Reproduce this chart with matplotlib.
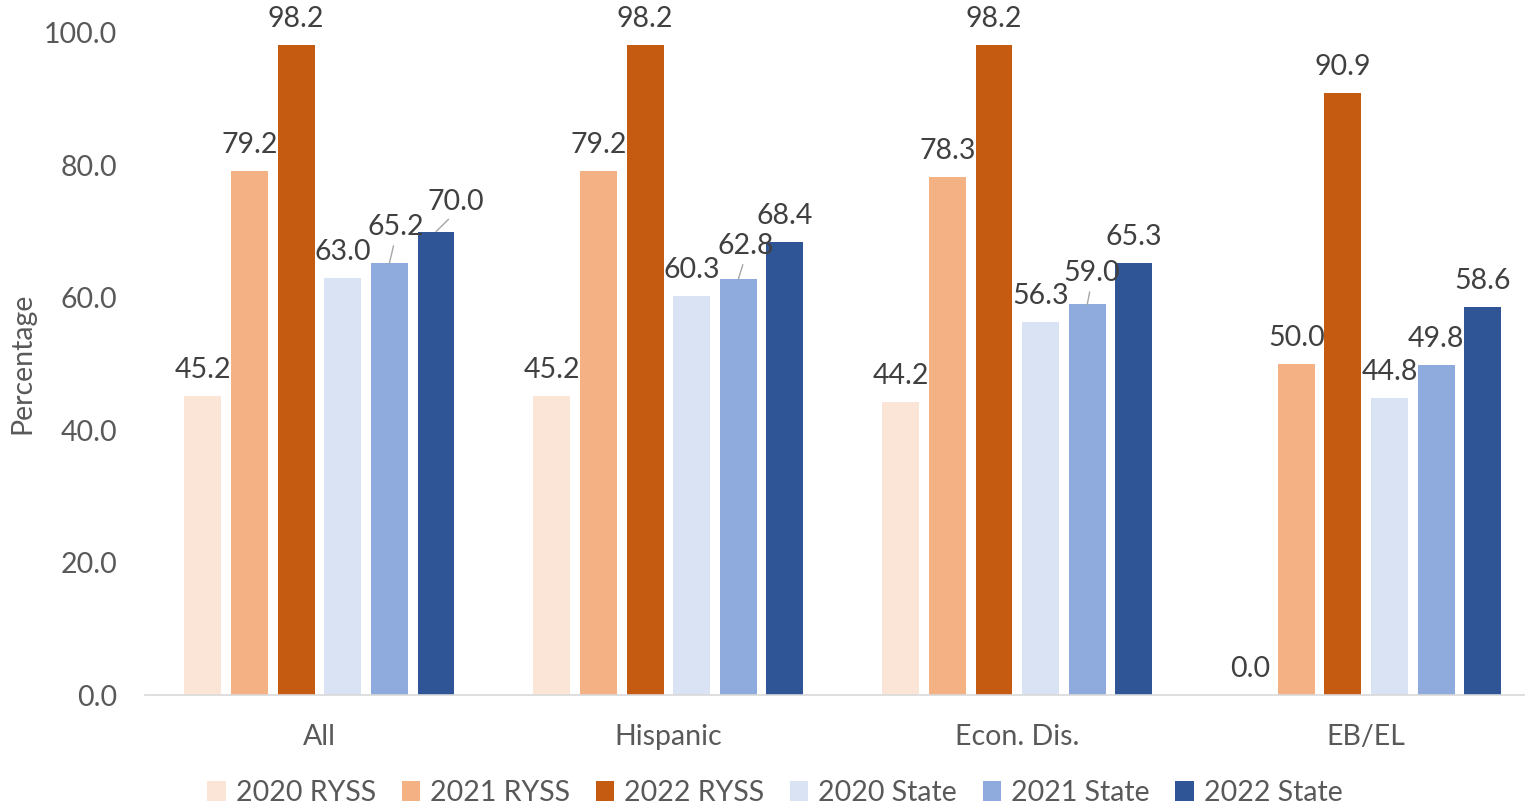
import numpy as np
import matplotlib
matplotlib.use('Agg')
import matplotlib.pyplot as plt

plt.rcParams['font.family'] = ['Lato', 'DejaVu Sans']

categories = ['All', 'Hispanic', 'Econ. Dis.', 'EB/EL']
series_names = ['2020 RYSS', '2021 RYSS', '2022 RYSS', '2020 State', '2021 State', '2022 State']
ryss_2020 = [45.2, 45.2, 44.2, 0.0]
ryss_2021 = [79.2, 79.2, 78.3, 50.0]
ryss_2022 = [98.2, 98.2, 98.2, 90.9]
state_2020 = [63.0, 60.3, 56.3, 44.8]
state_2021 = [65.2, 62.8, 59.0, 49.8]
state_2022 = [70.0, 68.4, 65.3, 58.6]
series_values = [ryss_2020, ryss_2021, ryss_2022, state_2020, state_2021, state_2022]
yticks = [0, 20, 40, 60, 80, 100]

colors = ['#FBE5D6', '#F4B183', '#C55A11', '#DAE3F3', '#8FAADC', '#2F5597']

# labels Excel pushed aside (series index, category index) -> offset in px
moved = {(4, 0): (6, 36), (5, 0): (20, 30), (4, 1): (7, 33), (4, 2): (4, 31)}

fig = plt.figure(figsize=(15.25, 8.07), dpi=100)
ax = fig.add_axes([145 / 1525, 112 / 807, 1380 / 1525, 662 / 807])

step = 0.1336
width = 0.106
x = np.arange(len(categories))
for j, (name, vals) in enumerate(zip(series_names, series_values)):
    pos = x + (j - 2.5) * step
    ax.bar(pos, vals, width=width, color=colors[j], label=name, zorder=2)
    for i, v in enumerate(vals):
        dx, dy = moved.get((j, i), (0, 26))
        arrow = None
        if (j, i) in moved:
            arrow = dict(arrowstyle='-', color='#A6A6A6', lw=1,
                         relpos=(0.5, 0.1), shrinkA=2, shrinkB=0)
        ax.annotate(f'{v:.1f}', xy=(pos[i], v), xytext=(dx * 0.72, dy * 0.72),
                    textcoords='offset points', ha='center', va='center',
                    fontsize=20.5, color='#404040', arrowprops=arrow,
                    annotation_clip=False)

ax.set_xlim(-0.5, 3.455)
ax.set_ylim(0, 100)
ax.set_yticks(yticks)
ax.set_yticklabels([f'{t:.1f}' for t in yticks])
ax.set_xticks(x)
ax.set_xticklabels(categories)
ax.tick_params(axis='y', length=0, pad=20, labelsize=20.5, labelcolor='#595959')
ax.tick_params(axis='x', length=0, pad=21, labelsize=20.5, labelcolor='#595959')
for s in ['top', 'right', 'left']:
    ax.spines[s].set_visible(False)
ax.spines['bottom'].set_color('#D9D9D9')
ax.spines['bottom'].set_linewidth(1.2)

fig.text(22 / 1525, 1 - 363 / 807, 'Percentage', rotation=90, ha='center', va='center',
         fontsize=20.5, color='#595959')

leg = fig.legend(loc='center', bbox_to_anchor=(775 / 1525, 1 - 793 / 807), ncol=6,
                 frameon=False, fontsize=20.5, handlelength=0.65, handleheight=0.65,
                 handletextpad=0.35, columnspacing=0.9)
for t in leg.get_texts():
    t.set_color('#595959')

fig.savefig('out.png', dpi=100)
